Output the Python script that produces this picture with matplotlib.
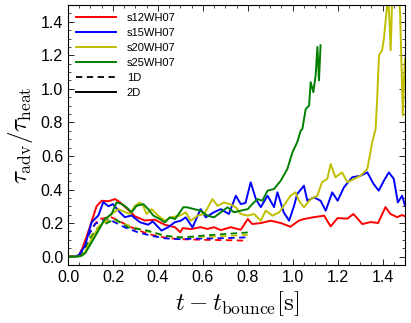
import matplotlib
matplotlib.use("Agg")
import matplotlib.pyplot as plt
from matplotlib.lines import Line2D
from matplotlib.ticker import MultipleLocator, AutoMinorLocator

plt.rcParams['mathtext.fontset'] = 'cm'
plt.rcParams['font.family'] = ['Liberation Sans', 'DejaVu Sans']

labels = ["s12WH07", "s15WH07", "s20WH07", "s25WH07"]
colors = ["r", "b", "y", "g"]

# 2D runs
t_s12 = [0.0, 0.03, 0.053, 0.075, 0.098, 0.127, 0.15, 0.18, 0.209, 0.23, 0.267, 0.298, 0.342, 0.387, 0.43, 0.476, 0.5, 0.51,
         0.547, 0.59, 0.62, 0.65, 0.68, 0.724, 0.769, 0.8, 0.82, 0.858, 0.902, 0.947, 0.99, 1.027, 1.05, 1.094, 1.14, 1.169,
         1.2, 1.243, 1.27, 1.31, 1.347, 1.38, 1.413, 1.435, 1.465, 1.487, 1.5]
y_s12 = [0.0, 0.0, 0.01, 0.09, 0.18, 0.30, 0.333, 0.33, 0.343, 0.325, 0.28, 0.24, 0.215, 0.22, 0.19, 0.175, 0.145, 0.17,
         0.164, 0.175, 0.165, 0.175, 0.158, 0.175, 0.16, 0.224, 0.194, 0.20, 0.214, 0.20, 0.178, 0.214, 0.224, 0.235, 0.244, 0.18,
         0.23, 0.226, 0.254, 0.194, 0.206, 0.20, 0.295, 0.254, 0.235, 0.248, 0.24]

t_s15 = [0.0, 0.03, 0.05, 0.076, 0.105, 0.135, 0.157, 0.18, 0.2, 0.23, 0.253, 0.283, 0.32, 0.357, 0.377, 0.416, 0.445, 0.476,
         0.502, 0.524, 0.554, 0.59, 0.613, 0.65, 0.68, 0.716, 0.747, 0.769, 0.79, 0.813, 0.836, 0.858, 0.888, 0.917, 0.932,
         0.96, 0.984, 1.006, 1.02, 1.05, 1.065, 1.095, 1.124, 1.147, 1.176, 1.2, 1.228, 1.265, 1.302, 1.332, 1.36, 1.383,
         1.406, 1.428, 1.45, 1.468, 1.487, 1.5]
y_s15 = [0.0, 0.0, 0.01, 0.065, 0.205, 0.245, 0.325, 0.30, 0.313, 0.265, 0.235, 0.245, 0.205, 0.19, 0.21, 0.155, 0.175, 0.205,
         0.214, 0.234, 0.174, 0.283, 0.234, 0.265, 0.283, 0.254, 0.363, 0.313, 0.32, 0.443, 0.343, 0.295, 0.363, 0.295, 0.383,
         0.264, 0.214, 0.303, 0.373, 0.423, 0.333, 0.353, 0.333, 0.274, 0.383, 0.333, 0.413, 0.473, 0.482, 0.502, 0.433, 0.393,
         0.453, 0.502, 0.463, 0.323, 0.363, 0.303]

t_s20 = [0.0, 0.04, 0.06, 0.076, 0.105, 0.135, 0.164, 0.194, 0.224, 0.246, 0.276, 0.298, 0.32, 0.335, 0.35, 0.372, 0.401,
         0.431, 0.46, 0.498, 0.524, 0.547, 0.576, 0.606, 0.643, 0.665, 0.695, 0.724, 0.747, 0.769, 0.8, 0.828, 0.858, 0.88,
         0.91, 0.94, 0.96, 0.99, 1.013, 1.028, 1.05, 1.08, 1.11, 1.13, 1.154, 1.169, 1.19, 1.22, 1.243, 1.273, 1.302, 1.332,
         1.354, 1.369, 1.376, 1.384, 1.398, 1.406, 1.416, 1.425, 1.43, 1.436, 1.443, 1.45, 1.47, 1.478, 1.485, 1.49, 1.495, 1.5]
y_s20 = [0.0, 0.0, 0.005, 0.027, 0.104, 0.174, 0.214, 0.254, 0.283, 0.27, 0.254, 0.303, 0.323, 0.30, 0.254, 0.283, 0.244,
         0.214, 0.234, 0.244, 0.264, 0.214, 0.244, 0.254, 0.343, 0.303, 0.323, 0.31, 0.294, 0.254, 0.244, 0.254, 0.214, 0.274,
         0.244, 0.264, 0.303, 0.363, 0.383, 0.333, 0.294, 0.343, 0.363, 0.443, 0.463, 0.552, 0.473, 0.502, 0.443, 0.463, 0.482,
         0.522, 0.682, 0.761, 0.94, 1.2, 1.23, 1.30, 1.44, 1.55, 1.42, 1.23, 1.55, 1.6, 1.6, 1.45, 1.1, 0.84, 1.05, 1.18]

t_s25 = [0.0, 0.04, 0.06, 0.076, 0.105, 0.135, 0.164, 0.194, 0.216, 0.24, 0.26, 0.283, 0.305, 0.335, 0.357, 0.38, 0.409,
         0.431, 0.453, 0.476, 0.498, 0.513, 0.53, 0.561, 0.59, 0.62, 0.65, 0.68, 0.71, 0.739, 0.769, 0.8, 0.82, 0.843, 0.865,
         0.888, 0.917, 0.947, 0.976, 0.999, 1.02, 1.036, 1.043, 1.058, 1.073, 1.08, 1.092, 1.102, 1.11, 1.117, 1.124]
y_s25 = [0.0, 0.0, 0.005, 0.02, 0.085, 0.155, 0.224, 0.254, 0.323, 0.313, 0.294, 0.264, 0.303, 0.313, 0.283, 0.244, 0.224,
         0.204, 0.234, 0.224, 0.264, 0.294, 0.294, 0.283, 0.274, 0.244, 0.234, 0.264, 0.294, 0.264, 0.274, 0.283, 0.313, 0.343,
         0.333, 0.393, 0.403, 0.453, 0.522, 0.622, 0.682, 0.751, 0.761, 0.88, 0.90, 1.04, 0.98, 1.08, 1.25, 1.05, 1.26]

# 1D runs
t1_s12 = [0.0, 0.03, 0.05, 0.09, 0.135, 0.194, 0.283, 0.357, 0.431, 0.49, 0.6, 0.7, 0.8]
y1_s12 = [0.0, 0.0, 0.01, 0.13, 0.224, 0.234, 0.174, 0.134, 0.114, 0.104, 0.10, 0.098, 0.095]
t1_s15 = [0.0, 0.03, 0.05, 0.09, 0.12, 0.15, 0.18, 0.209, 0.253, 0.313, 0.372, 0.431, 0.49, 0.6, 0.7, 0.8]
y1_s15 = [0.0, 0.0, 0.01, 0.124, 0.194, 0.214, 0.224, 0.204, 0.174, 0.144, 0.124, 0.109, 0.104, 0.108, 0.11, 0.115]
t1_s20 = [0.0, 0.04, 0.06, 0.1, 0.15, 0.2, 0.26, 0.342, 0.431, 0.5, 0.6, 0.7, 0.8]
y1_s20 = [0.0, 0.0, 0.01, 0.12, 0.2, 0.22, 0.19, 0.154, 0.124, 0.115, 0.118, 0.122, 0.13]
t1_s25 = [0.0, 0.04, 0.06, 0.1, 0.135, 0.209, 0.268, 0.357, 0.431, 0.505, 0.6, 0.7, 0.8]
y1_s25 = [0.0, 0.0, 0.01, 0.11, 0.174, 0.224, 0.174, 0.154, 0.124, 0.114, 0.125, 0.135, 0.144]

runs2d = [(t_s12, y_s12), (t_s15, y_s15), (t_s20, y_s20), (t_s25, y_s25)]
runs1d = [(t1_s12, y1_s12), (t1_s15, y1_s15), (t1_s20, y1_s20), (t1_s25, y1_s25)]

fig = plt.figure(figsize=(4.11, 3.23), dpi=100)
ax = fig.add_axes([0.1655, 0.1796, 0.82, 0.805])

yellow = (0.75, 0.75, 0.0)
cmap = {"r": "r", "b": "b", "y": yellow, "g": (0.0, 0.5, 0.0)}

for (t, y), c in zip(runs1d, colors):
    ax.plot(t, y, color=cmap[c], lw=1.3, ls=(0, (3.5, 2.5)))
for (t, y), c in zip(runs2d, colors):
    ax.plot(t, y, color=cmap[c], lw=1.4)

ax.set_xlim(0, 1.5)
ax.set_ylim(-0.05, 1.5)
ax.xaxis.set_major_locator(MultipleLocator(0.2))
ax.yaxis.set_major_locator(MultipleLocator(0.2))
ax.xaxis.set_minor_locator(AutoMinorLocator(4))
ax.yaxis.set_minor_locator(AutoMinorLocator(4))
ax.tick_params(which='both', direction='in', top=True, right=True, labelsize=11.5)
ax.tick_params(which='major', length=4, width=0.6)
ax.tick_params(which='minor', length=2, width=0.5)
for s in ax.spines.values():
    s.set_linewidth(0.8)

ax.set_xlabel(r'$t-t_{\rm bounce}[\rm s]$', fontsize=18, labelpad=3)
ax.set_ylabel(r'$\tau_{\rm adv}/\tau_{\rm heat}$', fontsize=18, labelpad=4)

handles = [Line2D([], [], color=cmap[c], lw=1.4) for c in colors]
handles += [Line2D([], [], color='k', lw=1.3, ls=(0, (3.5, 2.5))), Line2D([], [], color='k', lw=1.4)]
ax.legend(handles, labels + ["1D", "2D"], loc='upper left', frameon=False, fontsize=8,
          handlelength=3.6, handletextpad=1.0, labelspacing=0.45, borderaxespad=0.3,
          bbox_to_anchor=(0.0, 1.0))

fig.savefig("out.png", dpi=100)
